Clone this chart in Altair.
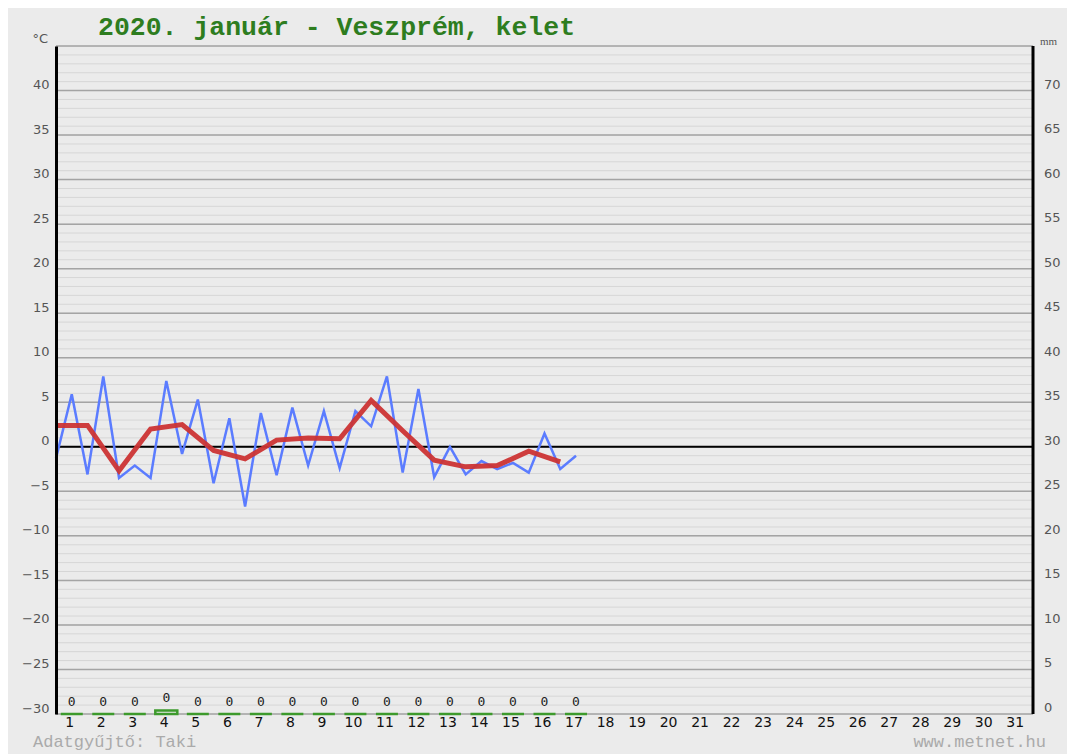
import altair as alt
import pandas as pd

# ---- data ----
days = list(range(1, 32))
# temperature readings every half day (x in day units)
blue_x = [0.5, 1.0, 1.5, 2.0, 2.5, 3.0, 3.5, 4.0, 4.5, 5.0, 5.5, 6.0, 6.5, 7.0, 7.5, 8.0, 8.5,
          9.0, 9.5, 10.0, 10.5, 11.0, 11.5, 12.0, 12.5, 13.0, 13.5, 14.0, 14.5, 15.0, 15.5, 16.0, 16.5, 17.0]
blue_t = [-1.3, 5.9, -3.1, 7.9, -3.5, -2.1, -3.5, 7.4, -0.8, 5.3, -4.1, 3.2, -6.7, 3.8, -3.2, 4.4, -2.1,
          4.0, -2.4, 4.0, 2.3, 7.9, -2.9, 6.5, -3.4, 0.0, -3.1, -1.6, -2.5, -1.8, -2.9, 1.5, -2.5, -1.0]
# daily mean
red_x = [0.5, 1.5, 2.5, 3.5, 4.5, 5.5, 6.5, 7.5, 8.5, 9.5, 10.5, 11.5, 12.5, 13.5, 14.5, 15.5, 16.5]
red_t = [2.4, 2.4, -2.7, 2.0, 2.5, -0.4, -1.35, 0.75, 1.0, 0.9, 5.2, 1.8, -1.5, -2.25, -2.1, -0.5, -1.7]
# precipitation (mm)
precip_days = list(range(1, 18))
precip_mm = [0, 0, 0, 0.4, 0, 0, 0, 0, 0, 0, 0, 0, 0, 0, 0, 0, 0]

left_ticks = list(range(-30, 41, 5))
right_ticks = list(range(0, 71, 5))
minor_grid = list(range(-30, 46))
major_grid = list(range(-30, 46, 5))
MM_OFFSET = 30  # 0 mm sits on -30 °C

title_text = "2020. január - Veszprém, kelet"
footer_left = "Adatgyűjtő: Taki"
footer_right = "www.metnet.hu"

BG = "#ebebeb"
W, H = 977, 668
xscale = alt.Scale(domain=[0.5, 31.5], nice=False, zero=False, padding=0)
tscale = alt.Scale(domain=[-30, 45], nice=False, zero=False, padding=0)

minor_df = pd.DataFrame({"v": minor_grid})
major_df = pd.DataFrame({"v": major_grid})
blue_df = pd.DataFrame({"x": blue_x, "t": blue_t})
red_df = pd.DataFrame({"x": red_x, "t": red_t})
prec_df = pd.DataFrame({"day": precip_days, "mm": precip_mm})
right_df = pd.DataFrame({"mm": right_ticks})
days_df = pd.DataFrame({"day": days})

minor = alt.Chart(minor_df).mark_rule(color="#d6d6d6", strokeWidth=1).encode(
    y=alt.Y("v:Q", scale=tscale,
            axis=alt.Axis(values=left_ticks, orient="left", grid=False, ticks=False,
                          domain=True, domainColor="black", domainWidth=3,
                          labelPadding=7, labelOffset=-6, zindex=2,
                          labelColor="#555", labelFont="DejaVu Sans", labelFontSize=13,
                          title=None))
)
major = alt.Chart(major_df).mark_rule(color="#a4a4a4", strokeWidth=1.5).encode(
    y=alt.Y("v:Q", scale=tscale)
)
zero = alt.Chart(pd.DataFrame({"v": [0]})).mark_rule(color="black", strokeWidth=2).encode(
    y=alt.Y("v:Q", scale=tscale)
)
blue = alt.Chart(blue_df).mark_line(color="#5b7cff", strokeWidth=2.5).encode(
    x=alt.X("x:Q", scale=xscale, axis=None),
    y=alt.Y("t:Q", scale=tscale),
)
red = alt.Chart(red_df).mark_line(color="#cc3434", strokeWidth=5, opacity=0.95).encode(
    x=alt.X("x:Q", scale=xscale, axis=None),
    y=alt.Y("t:Q", scale=tscale),
)

# day labels along the bottom, placed through the x scale
day_labels = alt.Chart(days_df).mark_text(
    font="DejaVu Sans", fontSize=14, color="#111", baseline="top", align="center", dx=-2
).encode(
    x=alt.X("day:Q", scale=xscale, axis=None),
    y=alt.value(H + 2),
    text=alt.Text("day:Q"),
)

prec_base = alt.Chart(prec_df).transform_calculate(
    t=f"datum.mm - {MM_OFFSET}", base=f"-{MM_OFFSET}"
)
bars = prec_base.mark_bar(size=22, fill=BG, stroke="#3d9a2c", strokeWidth=2.5).encode(
    x=alt.X("day:Q", scale=xscale, axis=None),
    y=alt.Y("t:Q", scale=tscale),
    y2="base:Q",
)
ptext = prec_base.mark_text(font="DejaVu Sans Mono", fontSize=13, color="#222",
                            baseline="middle", dy=-12).encode(
    x=alt.X("day:Q", scale=xscale, axis=None),
    y=alt.Y("t:Q", scale=tscale),
    text=alt.Text("mm:Q", format=".0f"),
)

# right-hand mm axis: line and labels
right_line = alt.Chart(pd.DataFrame({"a": [0]})).mark_rule(color="black", strokeWidth=3).encode(
    x=alt.value(W), y=alt.value(0), y2=alt.value(H)
)
right_labels = alt.Chart(right_df).transform_calculate(
    t=f"datum.mm - {MM_OFFSET}"
).mark_text(font="DejaVu Sans", fontSize=13, color="#555", align="left",
            baseline="middle", dy=-6).encode(
    x=alt.value(W + 11),
    y=alt.Y("t:Q", scale=tscale),
    text=alt.Text("mm:Q"),
)

def label(txt, x, y, **kw):
    return alt.Chart(pd.DataFrame({"t": [txt]})).mark_text(**kw).encode(
        text="t:N", x=alt.value(x), y=alt.value(y))

title = label(title_text, 42, -19, font="Liberation Mono", fontSize=26.5, fontWeight="bold",
              color="#2e7d1f", align="left", baseline="middle")
unit_c = label("°C", -8, -7, font="DejaVu Sans", fontSize=13, color="#555",
               align="right", baseline="middle")
unit_mm = label("mm", 984, -4, font="Liberation Serif", fontSize=11, color="#555",
                align="left", baseline="middle")
foot_l = label(footer_left, -23, 696, font="Liberation Mono", fontSize=17, color="#aaaaaa",
               align="left", baseline="middle")
foot_r = label(footer_right, 990, 696, font="Liberation Mono", fontSize=17, color="#aaaaaa",
               align="right", baseline="middle")

chart = alt.layer(
    minor, major, zero, bars, ptext, blue, red, right_line, right_labels, day_labels,
    title, unit_c, unit_mm, foot_l, foot_r
).properties(
    width=W, height=H,
    autosize=alt.AutoSizeParams(type="none"),
    padding={"left": 48, "top": 38, "right": 34, "bottom": 40},
    background=BG,
).configure_view(stroke=None)

chart.save("out.html", embed_options={"renderer": "svg", "actions": False})
